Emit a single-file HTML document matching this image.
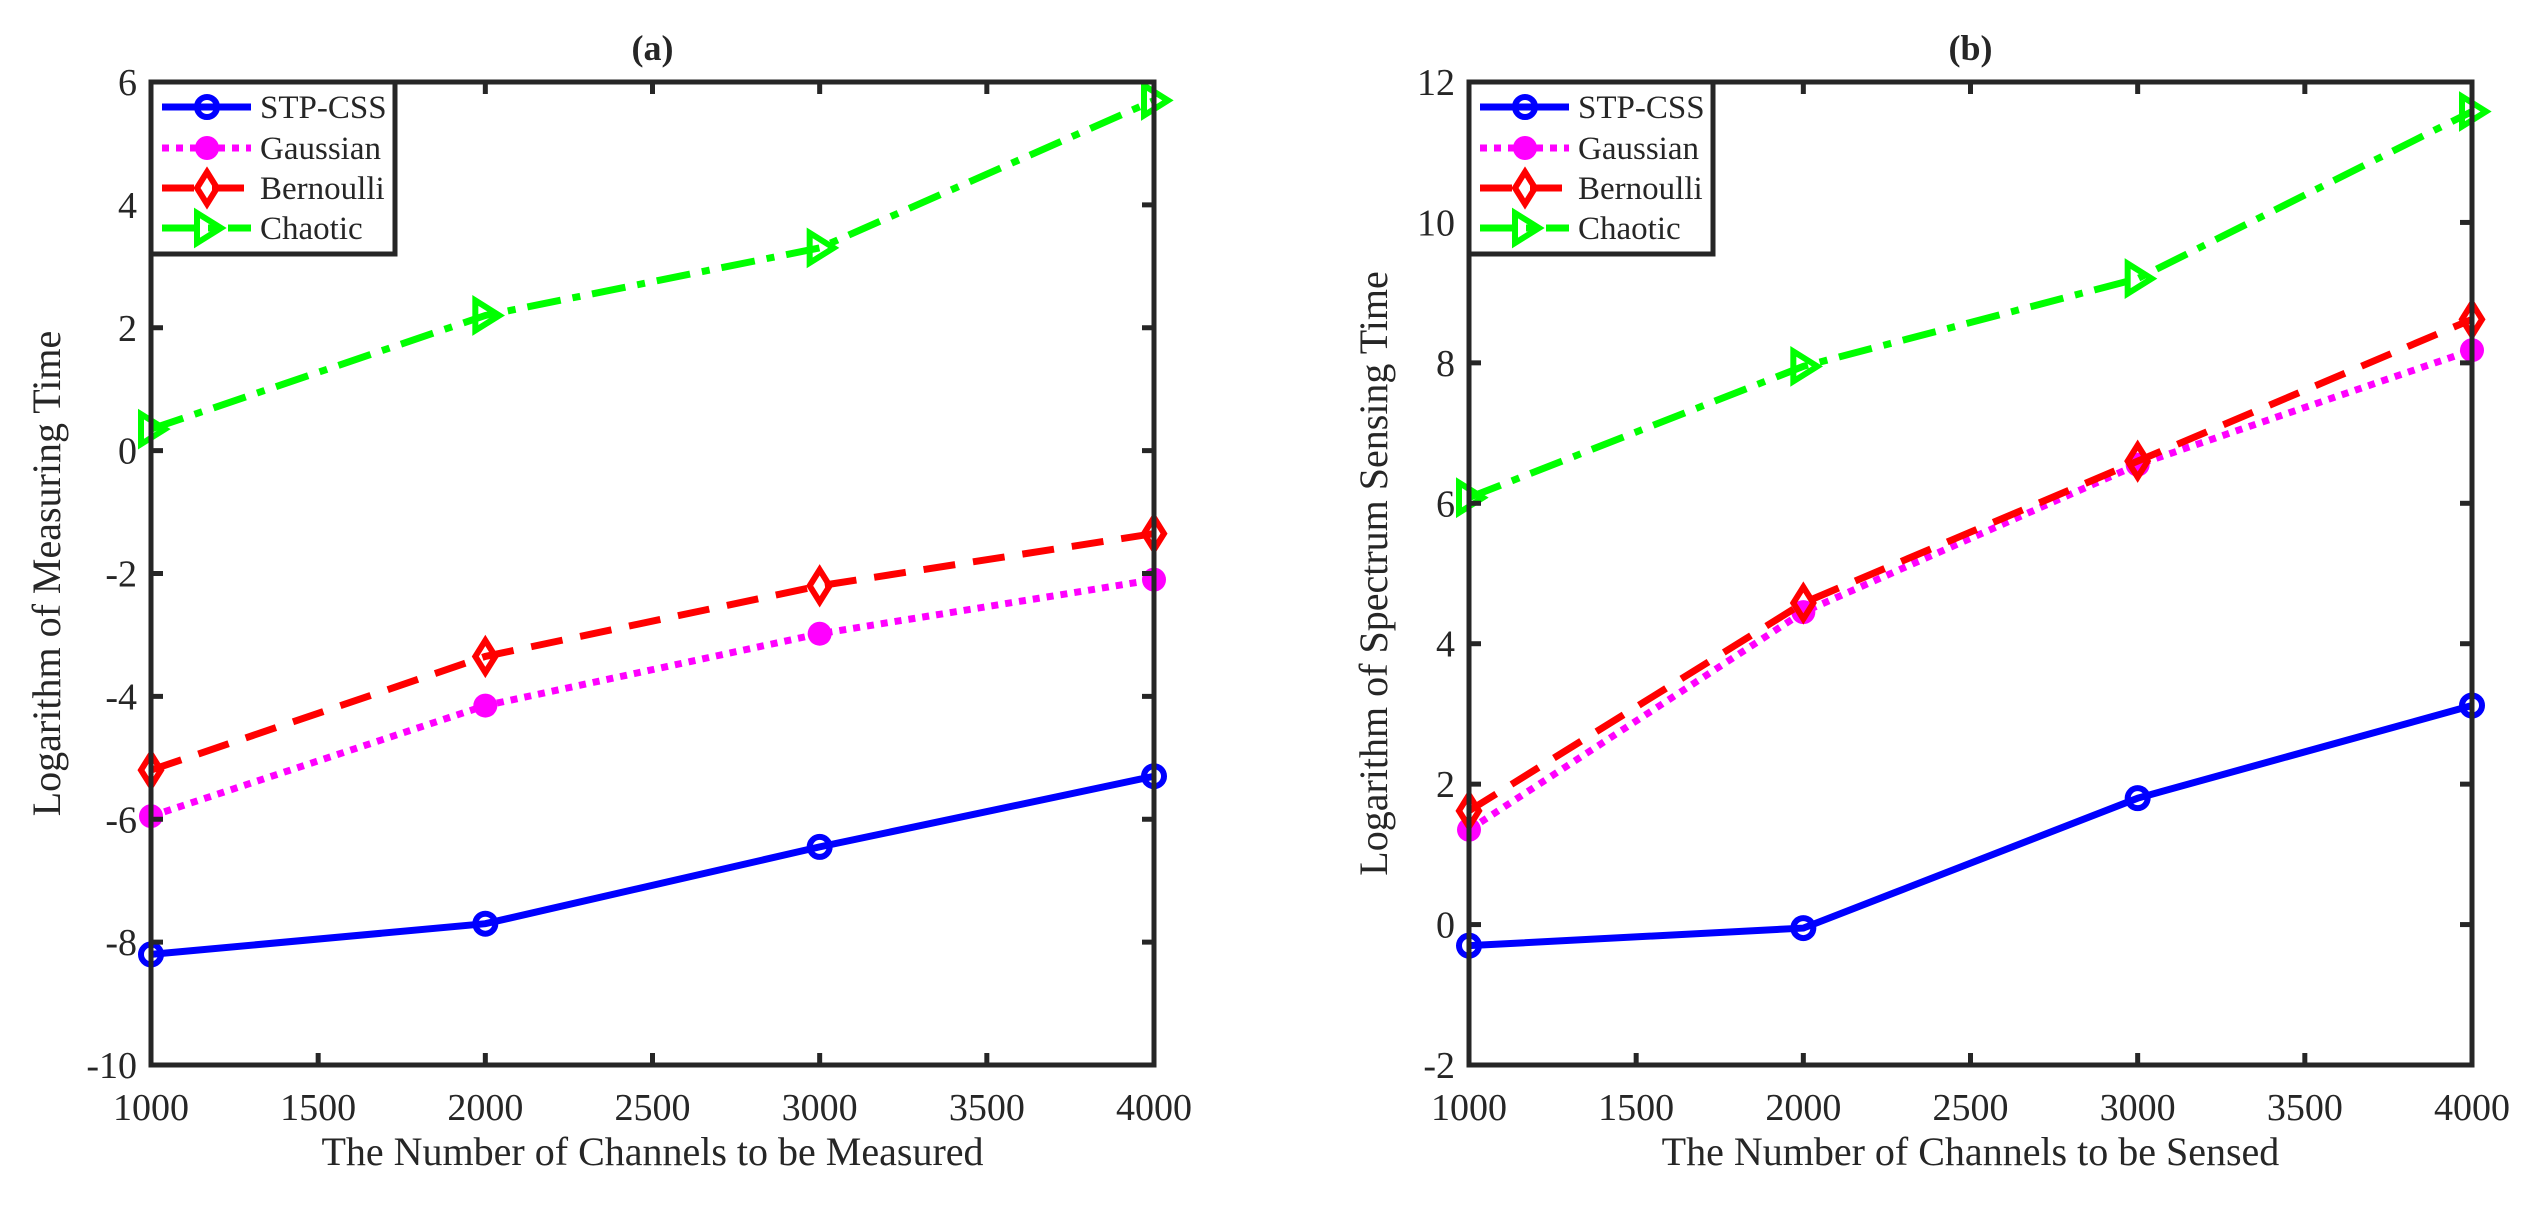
<!DOCTYPE html>
<html><head><meta charset="utf-8"><style>
body{margin:0;background:#fff}
svg text{font-family:"Liberation Serif",serif;fill:#262626}
</style></head><body>
<svg id="fig" width="2538" height="1207" xmlns="http://www.w3.org/2000/svg"></svg>
<script>
const categories=[1000,2000,3000,4000];
const xTicks=[1000,1500,2000,2500,3000,3500,4000];
const seriesNames=["STP-CSS","Gaussian","Bernoulli","Chaotic"];
const aSTP=[-8.2,-7.7,-6.45,-5.3];
const aGauss=[-5.95,-4.15,-2.98,-2.1];
const aBern=[-5.2,-3.35,-2.2,-1.35];
const aChaos=[0.35,2.2,3.3,5.7];
const bSTP=[-0.3,-0.05,1.8,3.12];
const bGauss=[1.35,4.45,6.55,8.18];
const bBern=[1.62,4.58,6.6,8.62];
const bChaos=[6.08,7.95,9.2,11.58];
const aYTicks=[-10,-8,-6,-4,-2,0,2,4,6];
const bYTicks=[-2,0,2,4,6,8,10,12];

const NS="http://www.w3.org/2000/svg";
const svg=document.getElementById('fig');
function mk(tag,attrs,parent){const e=document.createElementNS(NS,tag);for(const k in attrs)e.setAttribute(k,attrs[k]);(parent||svg).appendChild(e);return e;}
const styles=[
 {color:"#0000ff",dash:"",marker:"circle"},
 {color:"#ff00ff",dash:"7 7",marker:"dot"},
 {color:"#ff0000",dash:"32 18",marker:"diamond"},
 {color:"#00ff00",dash:"34 12 8 12",marker:"tri"}
];
function marker(g,type,cx,cy,color){
 let m;
 if(type==="circle")m=mk('circle',{cx,cy,r:10,fill:"none",stroke:color,"stroke-width":6},g);
 else if(type==="dot")m=mk('circle',{cx,cy,r:12,fill:color},g);
 else if(type==="diamond")m=mk('polygon',{points:`${cx},${cy-16} ${cx+10},${cy} ${cx},${cy+16} ${cx-10},${cy}`,fill:"none",stroke:color,"stroke-width":6},g);
 else m=mk('polygon',{points:`${cx-10},${cy-15} ${cx+14},${cy} ${cx-10},${cy+15}`,fill:"none",stroke:color,"stroke-width":6},g);
 
 
}
function panel(id,L,R,T,B,yMin,yMax,yTicks,series,title,xlabel,ylabel,ylx){
 const g=mk('g',{});
 
 
 const X=v=>L+(v-1000)/3000*(R-L);
 const Y=v=>B-(v-yMin)/(yMax-yMin)*(B-T);
 series.forEach((vals,i)=>{
  const s=styles[i];
  const sg=mk('g',{},g);
  
  
  const pts=vals.map((v,j)=>X(categories[j])+','+Y(v)).join(' ');
  mk('polyline',{points:pts,fill:"none",stroke:s.color,"stroke-width":7,"stroke-dasharray":s.dash},sg);
  vals.forEach((v,j)=>marker(sg,s.marker,X(categories[j]),Y(v),s.color));
 });
 const ax=mk('g',{},g);
 
 
 xTicks.forEach(t=>{
  const x=X(t);
  mk('line',{x1:x,x2:x,y1:B,y2:B-12,stroke:"#262626","stroke-width":5},ax);
  mk('line',{x1:x,x2:x,y1:T,y2:T+12,stroke:"#262626","stroke-width":5},ax);
  const tx=mk('text',{x:x,y:B+55,"text-anchor":"middle","font-size":38},ax);tx.textContent=t;
  
  
 });
 yTicks.forEach(t=>{
  const y=Y(t);
  mk('line',{x1:L,x2:L+12,y1:y,y2:y,stroke:"#262626","stroke-width":5},ax);
  mk('line',{x1:R,x2:R-12,y1:y,y2:y,stroke:"#262626","stroke-width":5},ax);
  const tx=mk('text',{x:L-14,y:y+13,"text-anchor":"end","font-size":38},ax);tx.textContent=t;
  
  
 });
 mk('rect',{x:L,y:T,width:R-L,height:B-T,fill:"none",stroke:"#262626","stroke-width":5},ax);
 const tt=mk('text',{x:(L+R)/2,y:T-22,"text-anchor":"middle","font-size":36,"font-weight":"bold"},g);tt.textContent=title;
 
 
 const xl=mk('text',{x:(L+R)/2,y:B+100,"text-anchor":"middle","font-size":40},g);xl.textContent=xlabel;
 
 
 const yl=mk('text',{x:0,y:0,"text-anchor":"middle","font-size":40,transform:`translate(${ylx},${(T+B)/2}) rotate(-90)`},g);yl.textContent=ylabel;
 
 
 const lg=mk('g',{},g);
 
 
 mk('rect',{x:L,y:T,width:244,height:172,fill:"#fff",stroke:"#262626","stroke-width":5},lg);
 const ly=[107,148,188,228];
 seriesNames.forEach((n,i)=>{
  const s=styles[i];
  const e=mk('g',{},lg);
  
  
  mk('line',{x1:L+11,x2:L+100,y1:ly[i],y2:ly[i],stroke:s.color,"stroke-width":7,"stroke-dasharray":s.dash},e);
  marker(e,s.marker,L+56,ly[i],s.color);
  const t=mk('text',{x:L+109,y:ly[i]+11,"font-size":33},e);t.textContent=n;
 });
}
panel('a',151,1154,82,1065,-10,6,aYTicks,[aSTP,aGauss,aBern,aChaos],'(a)','The Number of Channels to be Measured','Logarithm of Measuring Time',60);
panel('b',1469,2472,82,1065,-2,12,bYTicks,[bSTP,bGauss,bBern,bChaos],'(b)','The Number of Channels to be Sensed','Logarithm of Spectrum Sensing Time',1387);
</script>
</body></html>
